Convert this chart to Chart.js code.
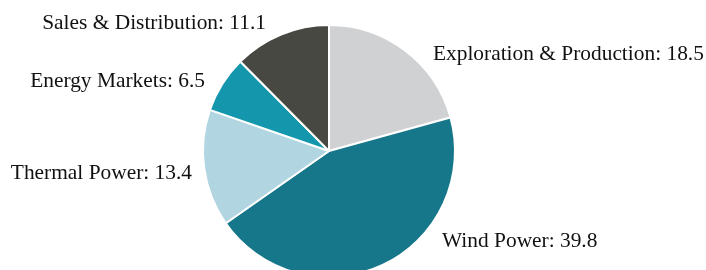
<!DOCTYPE html>
<html>
<head>
<meta charset="utf-8">
<script src="https://cdn.jsdelivr.net/npm/chart.js@4"></script>
<style>
    html, body { margin: 0; padding: 0; background: #fff; overflow: hidden; }
    #wrap { width: 706px; height: 302px; position: relative; }
</style>
</head>
<body>
<div id="wrap"><canvas id="pieChart"></canvas></div>
<script>
const categories = ['Exploration & Production', 'Wind Power', 'Thermal Power', 'Energy Markets', 'Sales & Distribution'];
const values = [18.5, 39.8, 13.4, 6.5, 11.1];
const colors = ['#d0d1d3', '#16768a', '#b1d6e1', '#1497ac', '#484842'];

// label anchor offsets, in pie radii from the centre, and text alignment
const labelOffsets = [[0.825, -0.765], [0.897, 0.718], [-1.087, 0.18], [-0.984, -0.55], [-0.5, -1.01]];
const labelAlign = ['left', 'left', 'right', 'right', 'right'];

const outsideLabels = {
    id: 'outsideLabels',
    afterDatasetsDraw(chart) {
        const ctx = chart.ctx;
        const meta = chart.getDatasetMeta(0);
        ctx.save();
        ctx.font = '21.4px "Liberation Serif", "Times New Roman", serif';
        ctx.fillStyle = '#111';
        ctx.textBaseline = 'middle';
        meta.data.forEach(function(arc, i) {
            const r = arc.outerRadius;
            ctx.textAlign = labelAlign[i];
            ctx.fillText(categories[i] + ': ' + values[i], arc.x + labelOffsets[i][0] * r, arc.y + labelOffsets[i][1] * r);
        });
        ctx.restore();
    }
};

document.addEventListener('DOMContentLoaded', function() {
    const ctx = document.getElementById('pieChart').getContext('2d');
    new Chart(ctx, {
        type: 'pie',
        data: {
            labels: categories,
            datasets: [{
                data: values,
                backgroundColor: colors,
                borderColor: '#ffffff',
                borderWidth: 2
            }]
        },
        options: {
            responsive: true,
            maintainAspectRatio: false,
            animation: false,
            layout: { padding: { left: 202, right: 250, top: 24, bottom: 24 } },
            plugins: {
                legend: { display: false },
                tooltip: { enabled: false }
            }
        },
        plugins: [outsideLabels]
    });
});
</script>
</body>
</html>
